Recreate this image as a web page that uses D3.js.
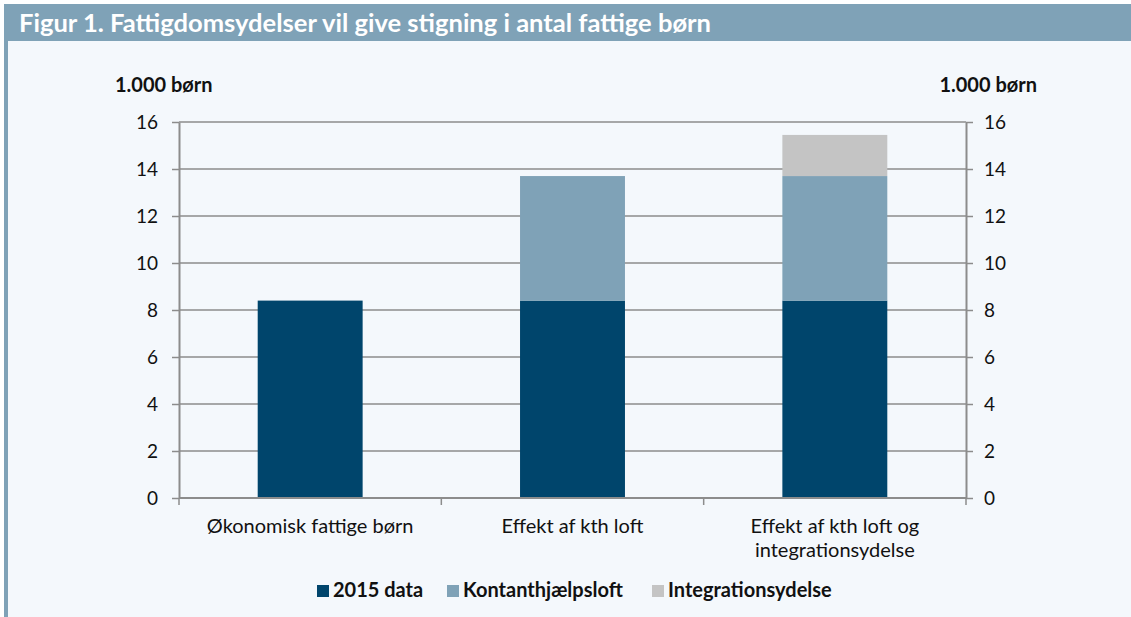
<!DOCTYPE html>
<html lang="da">
<head>
  <meta charset="UTF-8">
  <title>Figur 1. Fattigdomsydelser vil give stigning i antal fattige børn</title>
  <style>
    body { margin: 0; background: #fff; font-family: Lato, "Open Sans", sans-serif; }
    .axis text { font-size: 19px; fill: #111; font-family: Lato, sans-serif; }
  </style>
  <script src="https://d3js.org/d3.v7.min.js"></script>
</head>
<body>
  <svg id="chart" width="1131" height="617"></svg>
  <script>
    // Data
    const categories = ["Økonomisk fattige børn", "Effekt af kth loft", "Effekt af kth loft og integrationsydelse"];
    const categoryLines = [["Økonomisk fattige børn"], ["Effekt af kth loft"], ["Effekt af kth loft og", "integrationsydelse"]];
    const seriesNames = ["2015 data", "Kontanthjælpsloft", "Integrationsydelse"];
    const data2015 = [8.4, 8.4, 8.4];
    const kthLoft = [0, 5.3, 5.3];
    const integration = [0, 0, 1.75];
    const yTicks = [0, 2, 4, 6, 8, 10, 12, 14, 16];
    const colors = ["#00456c", "#7fa2b7", "#c4c4c4"];

    const width = 1131, height = 617;
    const margin = {top: 122, right: 165, bottom: 119, left: 179};
    const svg = d3.select("#chart");

    // panel background and frame
    svg.append("rect").attr("x", 4).attr("y", 4).attr("width", width - 4).attr("height", height - 4).attr("fill", "#f4f8fc");
    svg.append("rect").attr("x", 4).attr("y", 4).attr("width", width - 4).attr("height", 37).attr("fill", "#7fa2b7");
    svg.append("rect").attr("x", 4).attr("y", 41).attr("width", 4).attr("height", height - 41).attr("fill", "#7fa2b7");
    svg.append("text").attr("x", 19).attr("y", 32)
      .attr("fill", "#fff").attr("font-size", 24).attr("font-weight", "bold")
      .attr("textLength", 692).attr("lengthAdjust", "spacingAndGlyphs")
      .text("Figur 1. Fattigdomsydelser vil give stigning i antal fattige børn");

    const x = d3.scaleBand().domain(categories)
      .range([margin.left, width - margin.right])
      .paddingInner(0.6).paddingOuter(0.3);
    const y = d3.scaleLinear().domain([0, 16]).range([height - margin.bottom, margin.top]);

    // gridlines
    svg.append("g").selectAll("line").data(yTicks).join("line")
      .attr("x1", margin.left).attr("x2", width - margin.right)
      .attr("y1", d => y(d)).attr("y2", d => y(d))
      .attr("stroke", "#8c8c8c").attr("stroke-width", 1.5);

    // stacked bars
    const rows = categories.map((c, i) => ({cat: c, a: data2015[i], b: kthLoft[i], c: integration[i]}));
    const stack = d3.stack().keys(["a", "b", "c"])(rows);
    svg.append("g").selectAll("g").data(stack).join("g")
      .attr("fill", (d, i) => colors[i])
      .selectAll("rect").data(d => d.filter(p => p[1] > p[0])).join("rect")
      .attr("x", d => x(d.data.cat))
      .attr("width", x.bandwidth())
      .attr("y", d => y(d[1]))
      .attr("height", d => y(d[0]) - y(d[1]));

    // axes
    const axisStyle = g => {
      g.select(".domain").attr("stroke", "#8c8c8c").attr("stroke-width", 2);
      g.selectAll(".tick line").attr("stroke", "#8c8c8c").attr("stroke-width", 1.5);
    };
    svg.append("g").attr("class", "axis")
      .attr("transform", `translate(${margin.left},0)`)
      .call(d3.axisLeft(y).tickValues(yTicks).tickSize(7).tickPadding(14).tickSizeOuter(0))
      .call(axisStyle);
    svg.append("g").attr("class", "axis")
      .attr("transform", `translate(${width - margin.right},0)`)
      .call(d3.axisRight(y).tickValues(yTicks).tickSize(7).tickPadding(11).tickSizeOuter(0))
      .call(axisStyle);

    // bottom axis with ticks at band boundaries
    const bounds = d3.range(categories.length + 1).map(i => margin.left + i * (width - margin.left - margin.right) / categories.length);
    const xAxis = svg.append("g").attr("class", "axis");
    xAxis.append("line")
      .attr("x1", margin.left).attr("x2", width - margin.right)
      .attr("y1", y(0)).attr("y2", y(0))
      .attr("stroke", "#8c8c8c").attr("stroke-width", 2);
    xAxis.selectAll(".bt").data(bounds).join("line")
      .attr("x1", d => d).attr("x2", d => d)
      .attr("y1", y(0)).attr("y2", y(0) + 7)
      .attr("stroke", "#8c8c8c").attr("stroke-width", 1.5);
    xAxis.selectAll(".cl").data(categories).join("text")
      .attr("text-anchor", "middle")
      .style("font-size", "20px")
      .attr("x", d => x(d) + x.bandwidth() / 2)
      .attr("y", y(0) + 35)
      .each(function(d, i) {
        d3.select(this).selectAll("tspan").data(categoryLines[i]).join("tspan")
          .attr("x", x(d) + x.bandwidth() / 2)
          .attr("dy", (t, j) => j === 0 ? 0 : 24)
          .text(t => t);
      });

    // unit labels
    svg.append("text").attr("x", 115).attr("y", 92).attr("font-size", 20).attr("font-weight", "bold").attr("fill", "#111").text("1.000 børn");
    svg.append("text").attr("x", 1037).attr("y", 92).attr("text-anchor", "end").attr("font-size", 20).attr("font-weight", "bold").attr("fill", "#111").text("1.000 børn");

    // legend
    const legend = svg.append("g").attr("transform", "translate(317,597)");
    const legendX = [0, 130, 335];
    seriesNames.forEach((s, i) => {
      const g = legend.append("g").attr("transform", `translate(${legendX[i]},0)`);
      g.append("rect").attr("x", 0).attr("y", -12).attr("width", 12).attr("height", 12).attr("fill", colors[i]);
      g.append("text").attr("x", 16).attr("y", 0).attr("font-size", 20).attr("font-weight", "bold").attr("fill", "#111").text(s);
    });
  </script>
</body>
</html>
